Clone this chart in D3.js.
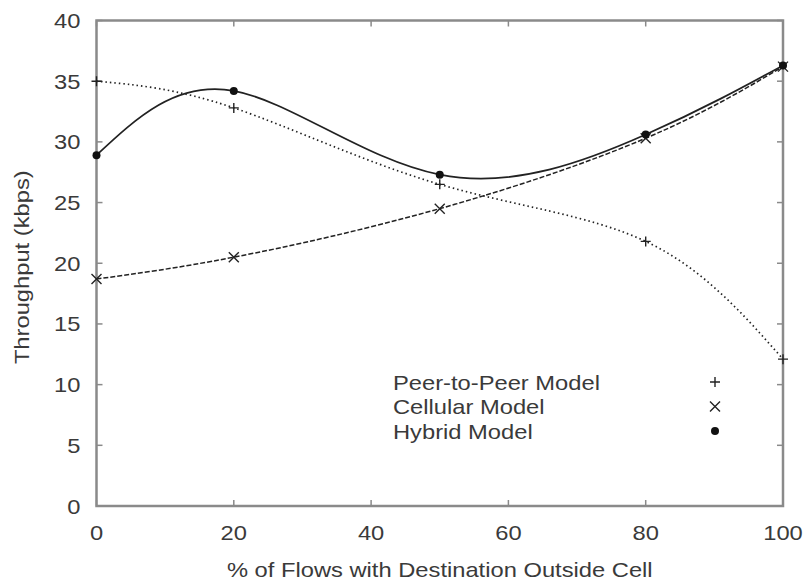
<!DOCTYPE html>
<html>
<head>
<meta charset="utf-8">
<script src="https://cdn.jsdelivr.net/npm/d3@7"></script>
<style>
  body { margin: 0; background: #fff; }
  text { font-family: "Liberation Sans", Arial, sans-serif; }
</style>
</head>
<body>
<div id="container"></div>
<script>
// data
const flows = [0, 20, 50, 80, 100];
const peerToPeer = [35.0, 32.8, 26.5, 21.8, 12.1];
const cellular = [18.7, 20.5, 24.5, 30.3, 36.2];
const hybrid = [28.9, 34.2, 27.3, 30.6, 36.3];
const xTicks = [0, 20, 40, 60, 80, 100];
const yTicks = [0, 5, 10, 15, 20, 25, 30, 35, 40];
const seriesNames = ["Peer-to-Peer Model", "Cellular Model", "Hybrid Model"];

const width = 806, height = 583;
const marginLeft = 96.5, marginRight = 23, marginTop = 20.5, marginBottom = 77;

const x = d3.scaleLinear().domain([0, 100]).range([marginLeft, width - marginRight]);
const y = d3.scaleLinear().domain([0, 40]).range([height - marginBottom, marginTop]);

const svg = d3.create("svg")
    .attr("width", width)
    .attr("height", height)
    .attr("viewBox", [0, 0, width, height]);

const frameColor = "#8a8a8a";
const textColor = "#3a3a3a";
const fontSize = 21;
const stretch = 1.13; // the original lettering is a bit wider than Liberation Sans

// text helper: places a slightly widened label
function label(g, tx, ty, str, anchor, rotate = 0) {
  return g.append("text")
      .attr("transform", `translate(${tx},${ty}) rotate(${rotate}) scale(${stretch},1)`)
      .attr("text-anchor", anchor)
      .attr("font-size", fontSize)
      .attr("fill", textColor)
      .text(str);
}

// ticks on all four sides, pointing inward
const tickLen = 6;
const ticks = svg.append("g").attr("stroke", frameColor).attr("stroke-width", 1.5);
ticks.selectAll(".yl")
  .data(yTicks)
  .join("line")
    .attr("x1", marginLeft).attr("x2", marginLeft + tickLen)
    .attr("y1", d => y(d)).attr("y2", d => y(d));
ticks.selectAll(".yr")
  .data(yTicks)
  .join("line")
    .attr("x1", width - marginRight).attr("x2", width - marginRight - tickLen)
    .attr("y1", d => y(d)).attr("y2", d => y(d));
ticks.selectAll(".xb")
  .data(xTicks)
  .join("line")
    .attr("x1", d => x(d)).attr("x2", d => x(d))
    .attr("y1", height - marginBottom).attr("y2", height - marginBottom - tickLen);
ticks.selectAll(".xt")
  .data(xTicks)
  .join("line")
    .attr("x1", d => x(d)).attr("x2", d => x(d))
    .attr("y1", marginTop).attr("y2", marginTop + tickLen);

// frame
svg.append("rect")
    .attr("x", marginLeft).attr("y", marginTop)
    .attr("width", x(100) - x(0)).attr("height", y(0) - y(40))
    .attr("fill", "none")
    .attr("stroke", frameColor)
    .attr("stroke-width", 2.5);

// tick labels
const labels = svg.append("g");
yTicks.forEach(d => label(labels, marginLeft - 16, y(d) + 7.5, d, "end"));
xTicks.forEach(d => label(labels, x(d), height - marginBottom + 34, d, "middle"));

// axis titles
label(labels, (x(0) + x(100)) / 2, 577, "% of Flows with Destination Outside Cell", "middle");
label(labels, 29, (y(0) + y(40)) / 2 + 4, "Throughput (kbps)", "middle", -90);

// smooth curves through the points
const line = d3.line()
    .x(d => x(d[0]))
    .y(d => y(d[1]))
    .curve(d3.curveNatural);

const series = [
  {name: seriesNames[0], values: peerToPeer, dash: "1.5,3", width: 1.7, marker: "plus"},
  {name: seriesNames[1], values: cellular, dash: "5,2", width: 1.5, marker: "cross"},
  {name: seriesNames[2], values: hybrid, dash: null, width: 1.7, marker: "dot"}
];

series.forEach(s => {
  s.points = flows.map((f, i) => [f, s.values[i]]);
  svg.append("path")
      .attr("d", line(s.points))
      .attr("fill", "none")
      .attr("stroke", "#222")
      .attr("stroke-width", s.width)
      .attr("stroke-dasharray", s.dash);
});

function drawMarker(g, type, cx, cy) {
  const r = 5;
  if (type === "plus") {
    g.append("path")
        .attr("d", `M${cx - r},${cy}H${cx + r}M${cx},${cy - r}V${cy + r}`)
        .attr("stroke", "#222").attr("stroke-width", 1.4);
  } else if (type === "cross") {
    g.append("path")
        .attr("d", `M${cx - r},${cy - r}L${cx + r},${cy + r}M${cx - r},${cy + r}L${cx + r},${cy - r}`)
        .attr("stroke", "#222").attr("stroke-width", 1.4);
  } else {
    g.append("circle")
        .attr("cx", cx).attr("cy", cy).attr("r", 4)
        .attr("fill", "#111");
  }
}

const markers = svg.append("g");
series.forEach(s => {
  s.points.forEach(p => drawMarker(markers, s.marker, x(p[0]), y(p[1])));
});

// legend
const legend = svg.append("g");
series.forEach((s, i) => {
  const ly = 382 + i * 24.5;
  label(legend, 393, ly + 7.5, s.name, "start");
  drawMarker(legend, s.marker, 715, ly);
});

document.getElementById("container").append(svg.node());
</script>
</body>
</html>
